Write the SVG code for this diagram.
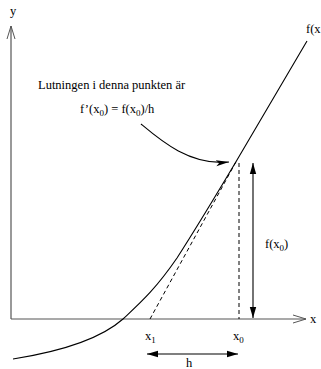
<svg xmlns="http://www.w3.org/2000/svg" width="321" height="369" viewBox="0 0 321 369">
<style>
text{font-family:"Liberation Serif","Times New Roman",serif;font-size:12.5px;fill:#000}
.sub{font-size:9px}
.axis{stroke:#555;stroke-width:1.2;fill:none}
.line{stroke:#000;stroke-width:1.1;fill:none}
.dash{stroke:#000;stroke-width:1;fill:none;stroke-dasharray:4,3}
</style>
<defs>
<marker id="open" markerWidth="14" markerHeight="10" refX="13" refY="5" orient="auto" markerUnits="userSpaceOnUse">
<path d="M0,1 L13,5 L0,9" fill="none" stroke="#555" stroke-width="1"/>
</marker>
<marker id="fill" markerWidth="12" markerHeight="8" refX="11" refY="4" orient="auto" markerUnits="userSpaceOnUse">
<path d="M0,0.8 L11,4 L0,7.2 Z" fill="#000"/>
</marker>
<marker id="thin" markerWidth="14" markerHeight="8" refX="13" refY="4" orient="auto" markerUnits="userSpaceOnUse">
<path d="M0,1 L13,4 L0,7 L3,4 Z" fill="#000"/>
</marker>
</defs>
<g id="connectors">
<path id="yaxis" class="axis" d="M11,319 L11,26" marker-end="url(#open)"/>
<path id="xaxis" class="axis" d="M11,319 L306,319" marker-end="url(#open)"/>
<path id="curve" class="line" d="M13,359 C70,350 105,335 123,319 C140,303 155,290 177,258 C195,230 215,197 237,160 L307,41"/>
<path id="tangent" class="dash" d="M150,319 L237,160"/>
<path id="vdash" class="dash" d="M239,163 L239,319"/>
<path id="fx0arrow" class="line" d="M253,240 L253,163" marker-end="url(#fill)"/>
<path id="fx0arrow2" class="line" d="M253,240 L253,318" marker-end="url(#fill)"/>
<path id="harrow" class="line" d="M192,354 L238,354" marker-end="url(#fill)"/>
<path id="harrow2" class="line" d="M192,354 L147,354" marker-end="url(#fill)"/>
<path id="pointer" class="line" d="M141,124 C160,140 190,166 229,162" marker-end="url(#thin)"/>
</g>
<g id="label-y"><text x="10" y="15">y</text></g>
<g id="label-x"><text x="310" y="323">x</text></g>
<g id="label-fx"><text x="306" y="33">f(x</text></g>
<g id="label-note">
<text x="38" y="89">Lutningen i denna punkten är</text>
<text x="80" y="113">f’(x<tspan class="sub" dy="3">0</tspan><tspan dy="-3">) = f(x</tspan><tspan class="sub" dy="3">0</tspan><tspan dy="-3">)/h</tspan></text>
</g>
<g id="label-fx0"><text x="265" y="248">f(x<tspan class="sub" dy="3">0</tspan><tspan dy="-3">)</tspan></text></g>
<g id="label-x1"><text x="145" y="340">x<tspan class="sub" dy="3">1</tspan></text></g>
<g id="label-x0"><text x="233" y="340">x<tspan class="sub" dy="3">0</tspan></text></g>
<g id="label-h"><text x="186" y="367">h</text></g>
</svg>
